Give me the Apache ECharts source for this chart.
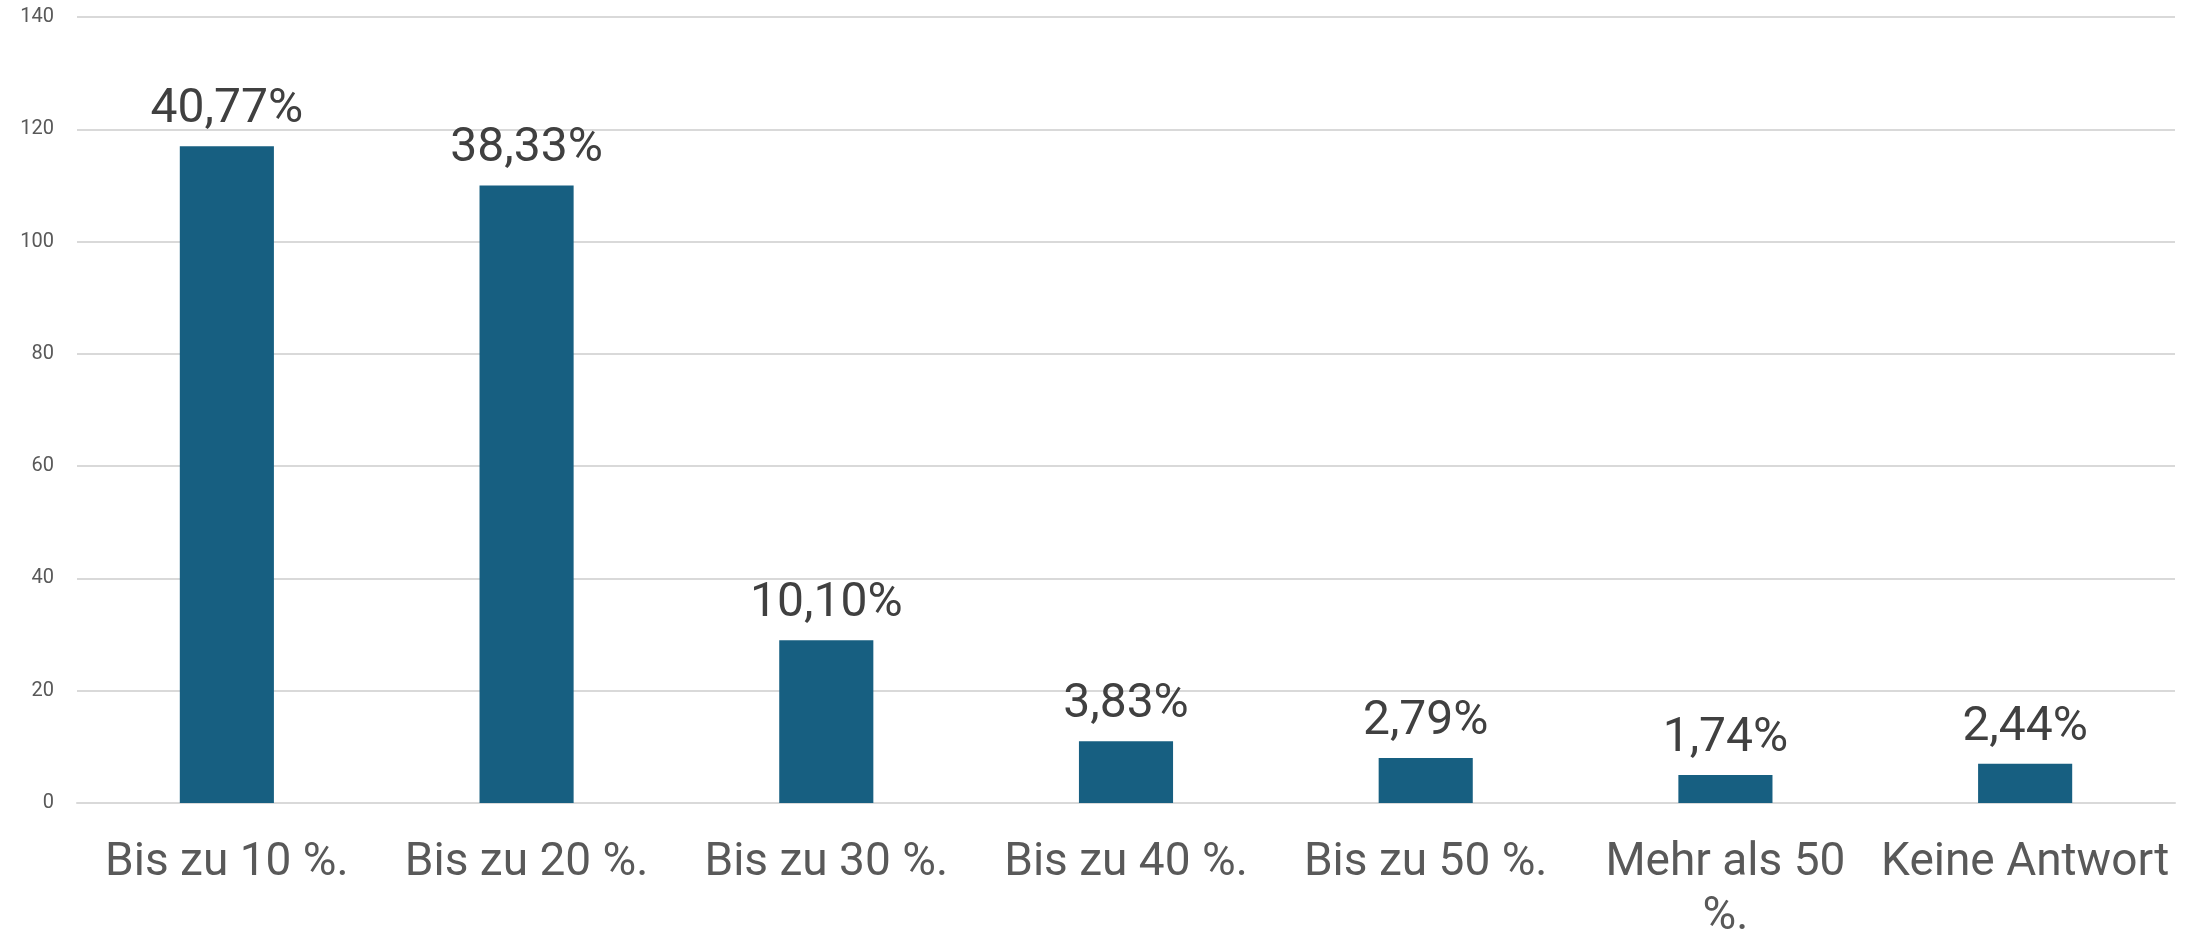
<!DOCTYPE html>
<html>
<head>
<meta charset="utf-8">
<script src="https://cdn.jsdelivr.net/npm/echarts@6/dist/echarts.min.js"></script>
<style>
  html, body { margin: 0; padding: 0; background: #fff; }
  #chart { width: 2190px; height: 939px; }
</style>
</head>
<body>
<div id="chart"></div>
<script>
const categories = ['Bis zu 10 %.', 'Bis zu 20 %.', 'Bis zu 30 %.', 'Bis zu 40 %.', 'Bis zu 50 %.', 'Mehr als 50 %.', 'Keine Antwort']
const counts = [117, 110, 29, 11, 8, 5, 7]
const percentLabels = ['40,77%', '38,33%', '10,10%', '3,83%', '2,79%', '1,74%', '2,44%']
const yTicks = [0, 20, 40, 60, 80, 100, 120, 140]

const chart = echarts.init(document.getElementById('chart'))

chart.setOption({
  animation: false,
  textStyle: { fontFamily: 'Roboto, sans-serif' },
  grid: {
    left: 77,
    right: 15,
    top: 17,
    bottom: 136,
    outerBoundsMode: 'none'
  },
  xAxis: {
    type: 'category',
    data: categories,
    axisTick: { show: false },
    axisLine: { lineStyle: { color: '#d9d9d9', width: 2 } },
    axisLabel: {
      color: '#595959',
      fontSize: 46,
      lineHeight: 54,
      margin: 33,
      interval: 0,
      // only the long label wraps, like the original
      formatter: v => (v === 'Mehr als 50 %.' ? 'Mehr als 50\n%.' : v)
    }
  },
  yAxis: {
    type: 'value',
    min: yTicks[0],
    max: yTicks[yTicks.length - 1],
    interval: 20,
    axisLine: { show: false },
    axisTick: { show: false },
    splitLine: { lineStyle: { color: '#d9d9d9', width: 2 } },
    axisLabel: { color: '#595959', fontSize: 20, margin: 23 }
  },
  series: [
    {
      type: 'bar',
      data: counts,
      barCategoryGap: '68.6%',
      itemStyle: { color: '#175f81' },
      label: {
        show: true,
        position: 'top',
        distance: 12,
        color: '#404040',
        fontSize: 48,
        formatter: p => percentLabels[p.dataIndex]
      }
    }
  ]
})
</script>
</body>
</html>
